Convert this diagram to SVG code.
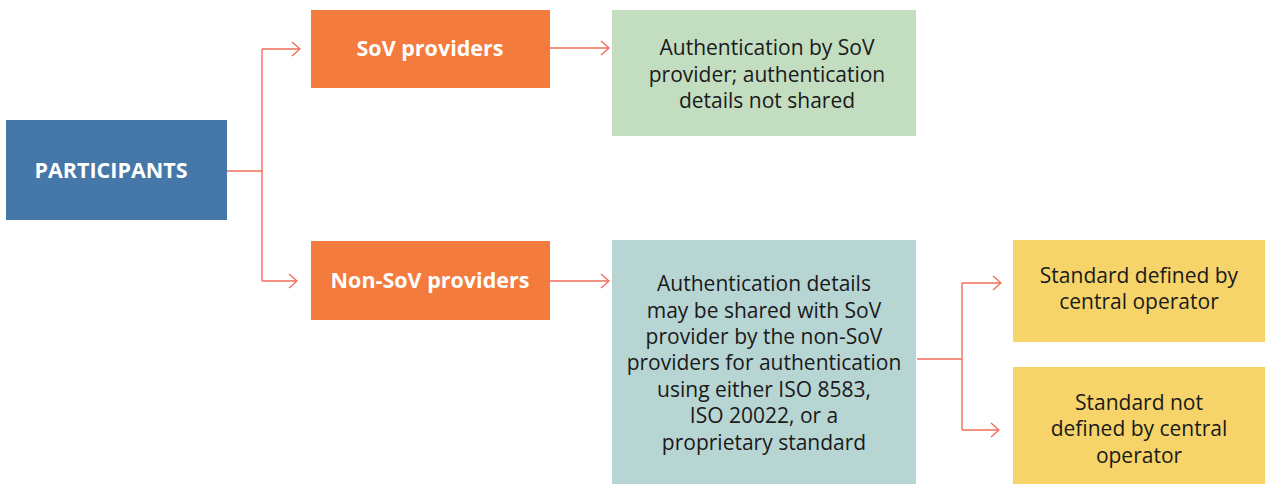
<svg xmlns="http://www.w3.org/2000/svg" width="1265" height="484" viewBox="0 0 1265 484">
<defs>
<style>
.t{font-family:"Open Sans","Noto Sans","Liberation Sans",sans-serif;font-size:21px;text-anchor:middle;fill:#1a1a1a}
.w{fill:#ffffff;font-weight:700;font-size:21.5px}
.c{fill:none;stroke:#EF6E5A;stroke-width:1.4}
</style>
<marker id="ah" viewBox="0 0 10 16" refX="9" refY="8" markerWidth="10" markerHeight="16" markerUnits="userSpaceOnUse" orient="auto">
<path d="M1 1 L9 8 L1 15" fill="none" stroke="#EF6E5A" stroke-width="1.4"/>
</marker>
</defs>
<rect width="1265" height="484" fill="#ffffff"/>
<g id="participants">
<rect x="6" y="120" width="221" height="100" fill="#4577A8"/>
<text class="t w" x="111" y="178">PARTICIPANTS</text>
</g>
<g id="sov">
<rect x="311" y="10" width="239" height="78" fill="#F47B3E"/>
<text class="t w" x="430" y="56">SoV providers</text>
</g>
<g id="nonsov">
<rect x="311" y="241" width="239" height="79" fill="#F47B3E"/>
<text class="t w" x="430" y="288">Non-SoV providers</text>
</g>
<g id="auth-sov">
<rect x="612" y="10" width="304" height="126" fill="#C3DDC0"/>
<text class="t" x="767" y="55">Authentication by SoV</text>
<text class="t" x="767" y="82">provider; authentication</text>
<text class="t" x="767" y="108">details not shared</text>
</g>
<g id="auth-nonsov">
<rect x="612" y="240" width="304" height="244" fill="#B7D5D3"/>
<text class="t" x="764" y="291">Authentication details</text>
<text class="t" x="764" y="318">may be shared with SoV</text>
<text class="t" x="764" y="344">provider by the non-SoV</text>
<text class="t" x="764" y="370">providers for authentication</text>
<text class="t" x="764" y="397">using either ISO 8583,</text>
<text class="t" x="764" y="423">ISO 20022, or a</text>
<text class="t" x="764" y="450">proprietary standard</text>
</g>
<g id="std-defined">
<rect x="1013" y="240" width="252" height="102" fill="#F6D46A"/>
<text class="t" x="1139" y="283">Standard defined by</text>
<text class="t" x="1139" y="309">central operator</text>
</g>
<g id="std-not-defined">
<rect x="1013" y="367" width="252" height="117" fill="#F6D46A"/>
<text class="t" x="1139" y="410">Standard not</text>
<text class="t" x="1139" y="436">defined by central</text>
<text class="t" x="1139" y="463">operator</text>
</g>
<g id="connectors">
<path class="c" d="M227 171 H262"/>
<path class="c" d="M262 49 V281"/>
<path class="c" d="M262 49 H300" marker-end="url(#ah)"/>
<path class="c" d="M262 281 H297" marker-end="url(#ah)"/>
<path class="c" d="M550 48 H609" marker-end="url(#ah)"/>
<path class="c" d="M550 281 H609" marker-end="url(#ah)"/>
<path class="c" d="M917 359 H962"/>
<path class="c" d="M962 283 V430"/>
<path class="c" d="M962 283 H1001" marker-end="url(#ah)"/>
<path class="c" d="M962 430 H999" marker-end="url(#ah)"/>
</g>
</svg>
